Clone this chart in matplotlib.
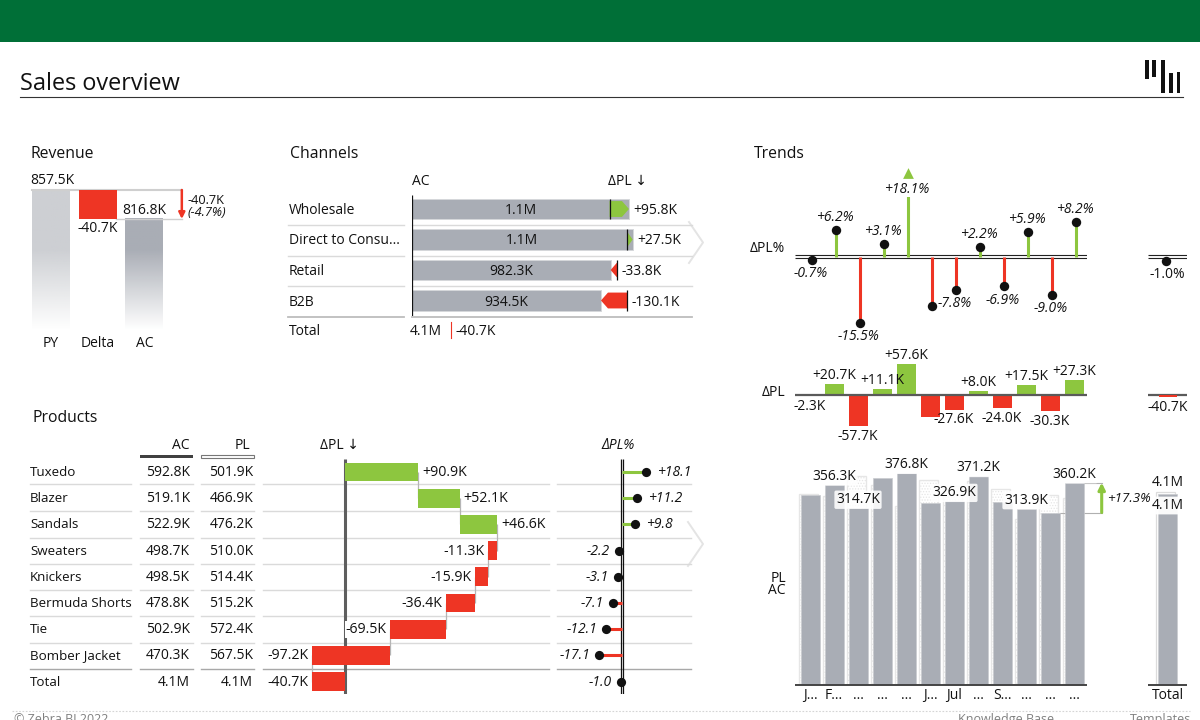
import numpy as np
import matplotlib
matplotlib.use("Agg")
import matplotlib.pyplot as plt
from matplotlib.patches import Polygon, Rectangle
from matplotlib.colors import to_rgb

plt.rcParams['font.family'] = ['Open Sans', 'DejaVu Sans']
plt.rcParams['font.size'] = 10
plt.rcParams['hatch.linewidth'] = 0.6

# ---------- data ----------
rev_cats = ["PY", "Delta", "AC"]
rev_py = 857.5
rev_delta = -40.7
rev_ac = 816.8

chan_names = ["Wholesale", "Direct to Consu...", "Retail", "B2B"]
chan_ac = [1073.0, 1091.0, 982.3, 934.5]
chan_ac_lbl = ["1.1M", "1.1M", "982.3K", "934.5K"]
chan_delta = [95.8, 27.5, -33.8, -130.1]

prod_names = ["Tuxedo", "Blazer", "Sandals", "Sweaters", "Knickers",
              "Bermuda Shorts", "Tie", "Bomber Jacket", "Total"]
prod_ac = ["592.8K", "519.1K", "522.9K", "498.7K", "498.5K", "478.8K", "502.9K", "470.3K", "4.1M"]
prod_pl = ["501.9K", "466.9K", "476.2K", "510.0K", "514.4K", "515.2K", "572.4K", "567.5K", "4.1M"]
prod_delta = [90.9, 52.1, 46.6, -11.3, -15.9, -36.4, -69.5, -97.2]
prod_total_delta = -40.7
prod_pct = [18.1, 11.2, 9.8, -2.2, -3.1, -7.1, -12.1, -17.1, -1.0]

months = ["J...", "F...", "...", "...", "...", "J...", "Jul", "...", "S...", "...", "...", "..."]
month_ac = [338.0, 356.3, 314.7, 368.0, 376.8, 324.6, 326.9, 371.2, 325.8, 313.9, 307.1, 360.2]
month_delta = [-2.3, 20.7, -57.7, 11.1, 57.6, -41.0, -27.6, 8.0, -24.0, 17.5, -30.3, 27.3]
month_pct = [-0.7, 6.2, -15.5, 3.1, 18.1, -11.5, -7.8, 2.2, -6.9, 5.9, -9.0, 8.2]
month_pct_lbl = ["-0.7%", "+6.2%", "-15.5%", "+3.1%", "+18.1%", "", "-7.8%", "+2.2%", "-6.9%", "+5.9%", "-9.0%", "+8.2%"]
month_delta_lbl = ["-2.3K", "+20.7K", "-57.7K", "+11.1K", "+57.6K", "", "-27.6K", "+8.0K", "-24.0K", "+17.5K", "-30.3K", "+27.3K"]
month_ac_lbl = ["", "356.3K", "314.7K", "", "376.8K", "", "326.9K", "371.2K", "", "313.9K", "", "360.2K"]
total_ac = 4081.0
total_pl = 4121.7
total_delta = -40.7
total_pct = -1.0

# ---------- style ----------
W, H = 1200, 720
GREY = "#A9ADB5"
LGREY = "#CDCFD3"
RED = "#EE3524"
GREEN = "#8DC63F"
HEAD = "#006F37"
SEP = "#DADADA"
TXT = "#111111"
PX = 0.72  # points per pixel
SHIFT = 1.5  # pixels: Open Sans sits high in its line box

fig = plt.figure(figsize=(12, 7.2), dpi=100, facecolor="white")


def px_axes(x0, y0, x1, y1, xlim, ylim, z=2):
    ax = fig.add_axes([x0 / W, 1 - y1 / H, (x1 - x0) / W, (y1 - y0) / H], zorder=z)
    ax.set_axis_off()
    ax.patch.set_visible(False)
    ax.set_xlim(*xlim)
    ax.set_ylim(*ylim)
    return ax


def off(ax, text, xy, dx=0, dy=0, ha="center", va="center", **kw):
    kw.setdefault("color", TXT)
    kw.setdefault("fontsize", 10)
    return ax.annotate(text, xy, xytext=(dx * PX, -(dy + SHIFT) * PX), textcoords="offset points",
                       ha=ha, va=va, annotation_clip=False, **kw)


# ---------- page decoration ----------
bg = px_axes(0, 0, W, H, (0, W), (H, 0), z=0)
bg.add_patch(Rectangle((0, 0), W, 42, fc=HEAD, ec="none"))
off(bg, "Sales overview", (20, 82), ha="left", fontsize=16.9, fontweight="medium")
bg.plot([20, 1183], [97, 97], color="#333333", lw=0.8)
for x0, x1, y0, y1 in [(1145, 1149, 60, 79), (1152, 1156, 60, 77), (1161, 1164.5, 60, 93),
                       (1169, 1172.5, 73, 93), (1176.5, 1180, 72, 93)]:
    bg.add_patch(Rectangle((x0, y0), x1 - x0, y1 - y0, fc="#111111", ec="none"))
bg.plot([12, 1190], [711, 711], color="#D5D5D5", lw=0.8, ls=(0, (1.5, 1.5)))
for x, s in [(14, "© Zebra BI 2022"), (958, "Knowledge Base"), (1130, "Templates")]:
    bg.text(x, 713, s, fontsize=9, color="#808080", va="top", clip_on=False)
for (x0, x1, y0, y1) in [(689, 703, 222, 263), (688, 703, 522, 566)]:
    bg.plot([x0, x1, x0], [y0, (y0 + y1) / 2, y1], color="#E4E4E4", lw=1.4)
for x, y, s in [(30, 152, "Revenue"), (290, 152, "Channels"), (754, 152, "Trends"), (33, 416, "Products")]:
    off(bg, s, (x, y), ha="left", fontsize=11.3)

# ---------- revenue ----------
REV_K = 0.7125
rev_bottom = rev_py - 140 / REV_K
rev = px_axes(28, 190 - 14, 190, 330, (-0.49, 2.975), (rev_bottom, rev_py + 14 / REV_K))
xl, yl = rev.get_xlim(), rev.get_ylim()
grad_stop = rev_py - 60 / REV_K
for i, top, col in [(0, rev_py, LGREY), (2, rev_ac, GREY)]:
    ys = np.linspace(top, rev_bottom, 128)
    alpha = np.clip((ys - rev_bottom) / (grad_stop - rev_bottom), 0, 1)
    img = np.ones((128, 1, 4))
    img[..., :3] = to_rgb(col)
    img[:, 0, 3] = alpha
    rev.imshow(img, extent=(i - 0.405, i + 0.405, rev_bottom, top), aspect="auto", zorder=1, origin="upper")
rev.set_xlim(*xl)
rev.set_ylim(*yl)
rev.bar(1, -rev_delta, bottom=rev_ac, width=0.81, color=RED, zorder=2)
rev.plot([-0.405, 2.8], [rev_py, rev_py], color="#CFCFCF", lw=1.5, zorder=1.5, clip_on=False)
rev.plot([1.4, 2.8], [rev_ac, rev_ac], color="#CFCFCF", lw=1.0, zorder=1.5, clip_on=False)
rev.annotate("", xy=(2.8, rev_ac), xytext=(2.8, rev_py), annotation_clip=False,
             arrowprops=dict(arrowstyle="-|>", color=RED, lw=1.8, mutation_scale=9, shrinkA=0, shrinkB=0))
off(rev, f"{rev_py:.1f}K", (0, rev_py), dx=1, dy=-11)
off(rev, f"{rev_delta:.1f}K", (1, rev_ac), dy=8)
off(rev, f"{rev_ac:.1f}K", (2, rev_ac), dy=-10)
off(rev, f"{rev_delta:.1f}K", (2.8, rev_py), dx=6, dy=9, ha="left", fontsize=9.2)
off(rev, "(-4.7%)", (2.8, rev_py), dx=6, dy=21, ha="left", fontsize=9.2, style="italic")
for i, c in enumerate(rev_cats):
    off(rev, c, (i, rev_bottom), dy=12)

# ---------- channels ----------
CH_K = 0.2022
ROW_C = 30.5
off(bg, "AC", (412, 180), ha="left")
off(bg, "ΔPL ↓", (608, 180), ha="left")
for y in [225, 255.5, 286]:
    bg.plot([288, 404], [y, y], color=SEP, lw=1.0)
    bg.plot([412, 692], [y, y], color=SEP, lw=1.0)
bg.plot([288, 404], [317, 317], color="#BDBDBD", lw=1.3)
bg.plot([412, 692], [317, 317], color="#BDBDBD", lw=1.3)
ch = px_axes(412, 195, 700, 316, (0, 288 / CH_K), ((316 - 209) / ROW_C, (195 - 209) / ROW_C))
rows = np.arange(len(chan_names))
ch.barh(rows, chan_ac, height=0.66, color=GREY, edgecolor="#D6D8DB", lw=0.7, zorder=1)
ch.vlines(0, -0.459, 3.508, color="#111111", lw=0.9, zorder=4)
tip_k = 7 / CH_K
half = 0.26
for r, ac, d, lbl, nm in zip(rows, chan_ac, chan_delta, chan_ac_lbl, chan_names):
    pl = ac - d
    t = min(abs(d), tip_k) * np.sign(d)
    pts = [(pl, r - half), (ac - t, r - half), (ac, r), (ac - t, r + half), (pl, r + half)]
    ch.add_patch(Polygon(pts, closed=True, fc=GREEN if d > 0 else RED, ec="none", zorder=2))
    ch.vlines(pl, r - 0.34, r + 0.34, color="#111111", lw=0.9, zorder=3)
    off(ch, lbl, (ac / 2, r), zorder=5)
    off(ch, f"{d:+.1f}K", (max(ac, pl), r), dx=4.5, ha="left")
    off(bg, nm, (289, 209 + r * ROW_C), ha="left")
off(bg, "Total", (289, 330), ha="left")
off(bg, "4.1M", (410, 330), ha="left")
bg.plot([451, 451], [322, 338], color=RED, lw=0.8)
off(bg, "-40.7K", (456, 330), ha="left")

# ---------- products ----------
R = 26.2
R0 = 472
seps = [484, 510.5, 537.5, 563.5, 589.5, 616, 642.5]
cols = [(30, 131), (140, 193), (201, 254), (263, 549), (557, 691)]
for y in seps:
    for a, b in cols:
        bg.plot([a, b], [y, y], color=SEP, lw=1.0)
for a, b in cols:
    bg.plot([a, b], [669, 669], color="#A8A8A8", lw=1.0)
rowlim = ((694 - R0) / R, (459 - R0) / R)
tb = px_axes(0, 459, 260, 694, (0, 260), rowlim)
for r, (n, a, p) in enumerate(zip(prod_names, prod_ac, prod_pl)):
    off(tb, n, (30, r), dy=-1, ha="left", fontsize=9.6)
    off(tb, a, (190, r), dy=-1, ha="right")
    off(tb, p, (253, r), dy=-1, ha="right")
off(bg, "AC", (189, 444), ha="right")
off(bg, "PL", (250, 444), ha="right")
bg.add_patch(Rectangle((140, 455), 53, 3, fc="#404040", ec="none"))
bg.add_patch(Rectangle((201, 455), 53, 3, fc="white", ec="#777777", lw=0.8))
off(bg, "ΔPL ↓", (320, 444), ha="left")
off(bg, "ΔPL%", (618, 444), style="italic")

WF_K = 0.803
wf = px_axes(263, 459, 549, 694, ((263 - 345) / WF_K, (549 - 345) / WF_K), rowlim)
wf.vlines(0, *rowlim, color="#5E5E5E", lw=2.2, zorder=1)
cum = np.cumsum(prod_delta)
starts = np.concatenate([[0], cum[:-1]])
wrows = np.arange(len(prod_delta))
wf.barh(wrows, prod_delta, left=starts, height=0.72, color=[GREEN if d > 0 else RED for d in prod_delta], zorder=2)
wf.barh(len(prod_delta), prod_total_delta, height=0.72, color=RED, zorder=2)
for r, c in enumerate(cum):
    wf.vlines(c, r, r + 1, color="#B5B5B5", lw=0.9, zorder=1.5)
for r, (d, s) in enumerate(zip(prod_delta, starts)):
    end = s + d
    if d > 0:
        off(wf, f"{d:+.1f}K", (end, r), dx=4, dy=-1, ha="left", fontsize=10.2, zorder=4)
    else:
        off(wf, f"{d:+.1f}K", (end, r), dx=-4, dy=-1, ha="right", fontsize=10.2, zorder=4,
            bbox=dict(fc="white", ec="none", pad=0.6))
off(wf, f"{prod_total_delta:+.1f}K", (prod_total_delta, len(prod_delta)), dx=-4, dy=-1, ha="right", fontsize=10.2, zorder=4)

PC_K = 1.32
pc = px_axes(557, 459, 691, 694, ((557 - 622) / PC_K, (691 - 622) / PC_K), rowlim)
for dx in [-1.1, 1.1]:
    pc.vlines(dx / PC_K, *rowlim, color="#111111", lw=0.9, zorder=1)
pr = np.arange(len(prod_pct))
pc.hlines(pr, 0, prod_pct, color=[GREEN if v > 0 else RED for v in prod_pct], lw=2.2, zorder=2)
pc.scatter(prod_pct, pr, s=44, color="#111111", zorder=3, clip_on=False, linewidths=0)
for r, v in enumerate(prod_pct):
    s = f"{v:+.1f}"
    if v > 0:
        off(pc, s, (v, r), dx=11, dy=-1, ha="left", style="italic")
    else:
        off(pc, s, (v, r), dx=-9, dy=-1, ha="right", style="italic")

# ---------- trends: percent ----------
T_K = 4.25
TX0 = 810
TS = 24
xlim_t = ((795 - TX0) / TS, (1087 - TX0) / TS)
mx = np.arange(len(months))
lx = mx + 0.07  # the lollipops sit a little right of the bars below them
pa = px_axes(795, 196.7, 1087, 342, xlim_t, (-(342 - 256.7) / T_K, (256.7 - 196.7) / T_K))
top = pa.get_ylim()[1]
for d in [-1.3, 1.3]:
    pa.hlines(d / T_K, *xlim_t, color="#222222", lw=0.8, zorder=1)
vis = np.array([v < top for v in month_pct])
pa.vlines(lx, 0, month_pct, color=[GREEN if v > 0 else RED for v in month_pct], lw=2.2, zorder=2)
pa.scatter(lx[vis], np.array(month_pct)[vis], s=46, color="#111111", zorder=3, clip_on=False, linewidths=0)
pa.scatter(lx[~vis], [top + 23.7 / T_K], marker="^", s=60, color=GREEN, clip_on=False, linewidths=0)
for x, v, s, ok in zip(lx, month_pct, month_pct_lbl, vis):
    if not s:
        continue
    yy = min(v, top)
    dy = (-14 if ok else -9) if v > 0 else 12.5
    off(pa, s, (x, yy), dx=-1, dy=dy, style="italic")
off(bg, "ΔPL%", (785, 247), ha="right")

ta = px_axes(1148, 196.7, 1187, 342, (-1, 1), pa.get_ylim())
for d in [-1.3, 1.3]:
    ta.hlines(d / T_K, -1, 1, color="#222222", lw=0.8, zorder=1)
ta.vlines(-0.08, 0, total_pct, color=RED, lw=2.2, zorder=2)
ta.scatter([-0.08], [total_pct], s=46, color="#111111", zorder=3, clip_on=False, linewidths=0)
off(ta, f"{total_pct:+.1f}%", (0, total_pct), dy=12)

# ---------- trends: delta ----------
D_K = 0.543
da = px_axes(795, 355, 1087, 432, xlim_t, (-(432 - 395) / D_K, (395 - 355) / D_K))
da.hlines(0, *xlim_t, color="#5A5A5A", lw=1.6, zorder=3)
da.bar(mx, month_delta, width=19 / TS, color=[GREEN if v > 0 else RED for v in month_delta], zorder=2)
for x, v, s in zip(mx, month_delta, month_delta_lbl):
    if s:
        off(da, s, (x, v), dy=-10 if v > 0 else 8.5, zorder=5)
off(bg, "ΔPL", (785, 391), ha="right")

TOT_K = 0.0468
tda = px_axes(1148, 355, 1187, 432, (-1, 1), (-(432 - 395) / TOT_K, (395 - 355) / TOT_K))
tda.hlines(0, -1, 1, color="#5A5A5A", lw=1.6, zorder=1)
tda.bar(0.02, total_delta, width=0.95, color=RED, zorder=2)
off(tda, f"{total_delta:+.1f}K", (0, total_delta), dy=9)

# ---------- trends: columns ----------
C_K = 0.5617
ca = px_axes(795, 450, 1140, 685, (xlim_t[0], (1140 - TX0) / TS), (0, 235 / C_K))
month_pl = np.array(month_ac) - np.array(month_delta)
ca.bar(mx - 2 / TS, month_pl, width=19 / TS, facecolor="white", edgecolor="#E6E6E6", lw=1.0, hatch="......", zorder=1)
ca.bar(mx, month_ac, width=19 / TS, color=GREY, edgecolor="#C9CBCF", lw=0.5, zorder=2)
ca.hlines(0, *xlim_t, color="#444444", lw=1.4, zorder=3, clip_on=False)
for x, v, s, m in zip(mx, month_ac, month_ac_lbl, months):
    if s:
        off(ca, s, (x, v), dy=-10, zorder=5,
            bbox=dict(boxstyle="round,pad=0.12", fc="white", ec="none", alpha=0.88))
    off(ca, m, (x, 0), dy=9)
off(bg, "PL", (786, 577), ha="right")
off(bg, "AC", (786, 589), ha="right")
ARW = (1101.7 - TX0) / TS
low, high = month_ac[10], month_ac[11]
ca.plot([10.4, ARW], [low, low], color="#B0B0B0", lw=0.8, zorder=1.5)
ca.plot([11.4, ARW], [high, high], color="#B0B0B0", lw=0.8, zorder=1.5)
ca.annotate("", xy=(ARW, high), xytext=(ARW, low),
            arrowprops=dict(arrowstyle="-|>", color=GREEN, lw=2.2, mutation_scale=10, shrinkA=0, shrinkB=0))
off(ca, f"+{(high / low - 1) * 100:.1f}%", (ARW, (low + high) / 2), dx=5.5, dy=-1, ha="left", style="italic", fontsize=9.6)

tc = px_axes(1148, 450, 1187, 685, (-1, 1), (0, 235 / TOT_K))
tc.bar(-0.1, total_pl, width=0.97, facecolor="white", edgecolor="#DCDCDC", lw=0.9, zorder=1)
tc.bar(0.02, total_ac, width=0.97, color=GREY, edgecolor="#C9CBCF", lw=0.5, zorder=2)
tc.hlines(0, -1, 1, color="#444444", lw=1.4, zorder=3, clip_on=False)
off(tc, "4.1M", (0, total_pl), dy=-11, zorder=5)
off(tc, "4.1M", (0, total_ac), dy=10, zorder=5,
    bbox=dict(boxstyle="round,pad=0.1", fc="white", ec="none", alpha=0.95))
off(tc, "Total", (0, 0), dy=9)

fig.savefig("out.png", dpi=100)
